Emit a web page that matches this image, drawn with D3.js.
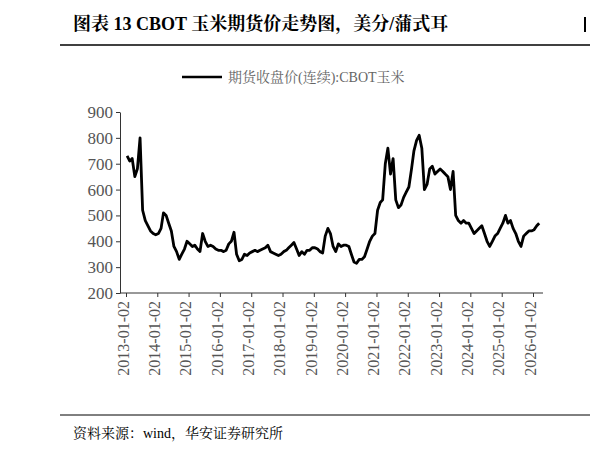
<!DOCTYPE html>
<html><head><meta charset="utf-8">
<script src="https://cdn.jsdelivr.net/npm/d3@7"></script>
<style>body{margin:0;background:#fff}</style>
</head><body><div id="chart"></div>
<script>
const startYear = 2013
const tickLabels = ['2013-01-02','2014-01-02','2015-01-02','2016-01-02','2017-01-02','2018-01-02','2019-01-02','2020-01-02','2021-01-02','2022-01-02','2023-01-02','2024-01-02','2025-01-02','2026-01-02']
const yTicks = [200,300,400,500,600,700,800,900]
// monthly closes (US cents / bushel), Jan 2013 .. Mar 2026
const prices = [
  730,710,720,650,680,800,520,480,460,440,430,425,
  430,450,510,500,470,440,380,360,330,350,370,400,
  390,380,385,370,360,430,400,380,385,380,370,365,
  365,360,365,390,400,435,350,325,330,350,345,355,
  360,365,360,365,370,375,385,360,355,350,345,350,
  360,365,375,385,395,370,345,360,350,365,365,375,
  375,370,360,355,420,450,430,380,360,390,380,385,
  385,380,350,320,315,330,330,340,370,400,420,430,
  520,550,560,700,760,660,720,560,530,540,570,590,
  610,680,750,790,810,760,600,620,680,690,660,670,
  680,670,660,650,600,670,500,480,470,480,470,470,
  450,430,440,450,460,430,400,380,400,420,430,450,
  470,500,470,480,450,430,400,380,420,430,440,440,
  445,460,470
]
const data = prices.map((v, i) => ({ date: new Date(startYear + Math.floor(i / 12), i % 12, 15), v }))

const svg = d3.select('#chart').append('svg').attr('width', 590).attr('height', 454)
const serif = '"Liberation Serif", "Noto Serif CJK SC", serif'

svg.append('text').attr('x', 73).attr('y', 30).style('font-size', '18px').attr('font-weight', 'bold')
  .style('font-family', serif).text('图表  13 CBOT 玉米期货价走势图，美分/蒲式耳')
svg.append('line').attr('x1', 60).attr('x2', 590).attr('y1', 45).attr('y2', 45).attr('stroke', '#000').attr('stroke-width', 1.5)
svg.append('rect').attr('x', 584).attr('y', 17).attr('width', 2).attr('height', 15).attr('fill', '#000')

const x = d3.scaleTime().domain([new Date(2013, 0, 2), new Date(2026, 0, 2)]).range([126, 533])
const y = d3.scaleLinear().domain([200, 900]).range([293, 112])

svg.append('line').attr('x1', 182).attr('x2', 222).attr('y1', 77).attr('y2', 77).attr('stroke', '#000').attr('stroke-width', 2.5)
svg.append('text').attr('x', 228).attr('y', 82).style('font-size', '14px').attr('fill', '#666')
  .style('font-family', serif).text('期货收盘价(连续):CBOT玉米')

const yAxis = svg.append('g').attr('transform', 'translate(120,0)')
  .call(d3.axisLeft(y).tickValues(yTicks).tickSize(4).tickSizeOuter(0))
yAxis.selectAll('text').style('font-size', '17px').attr('fill', '#555').style('font-family', serif)

const xTicks = tickLabels.map(s => d3.timeParse('%Y-%m-%d')(s))
const xAxis = svg.append('g').attr('transform', 'translate(0,293)')
  .call(d3.axisBottom(x).tickValues(xTicks).tickFormat(d3.timeFormat('%Y-%m-%d')).tickSize(4).tickSizeOuter(0))
xAxis.select('.domain').attr('d', 'M120,0H543')
xAxis.selectAll('text').style('font-size', '16px').attr('fill', '#555').style('font-family', serif)
  .attr('transform', 'rotate(-90)').attr('text-anchor', 'end').attr('dx', '-0.5em').attr('dy', '-0.3em')
svg.selectAll('.domain, .tick line').attr('stroke', '#333')

svg.append('path').datum(data).attr('fill', 'none').attr('stroke', '#000').attr('stroke-width', 2.8)
  .attr('stroke-linejoin', 'round')
  .attr('d', d3.line().x(d => x(d.date)).y(d => y(d.v)))

svg.append('line').attr('x1', 60).attr('x2', 590).attr('y1', 415).attr('y2', 415).attr('stroke', '#000').attr('stroke-width', 1)
svg.append('text').attr('x', 73).attr('y', 438).style('font-size', '14px')
  .style('font-family', serif).text('资料来源：wind，华安证券研究所')
</script></body></html>
